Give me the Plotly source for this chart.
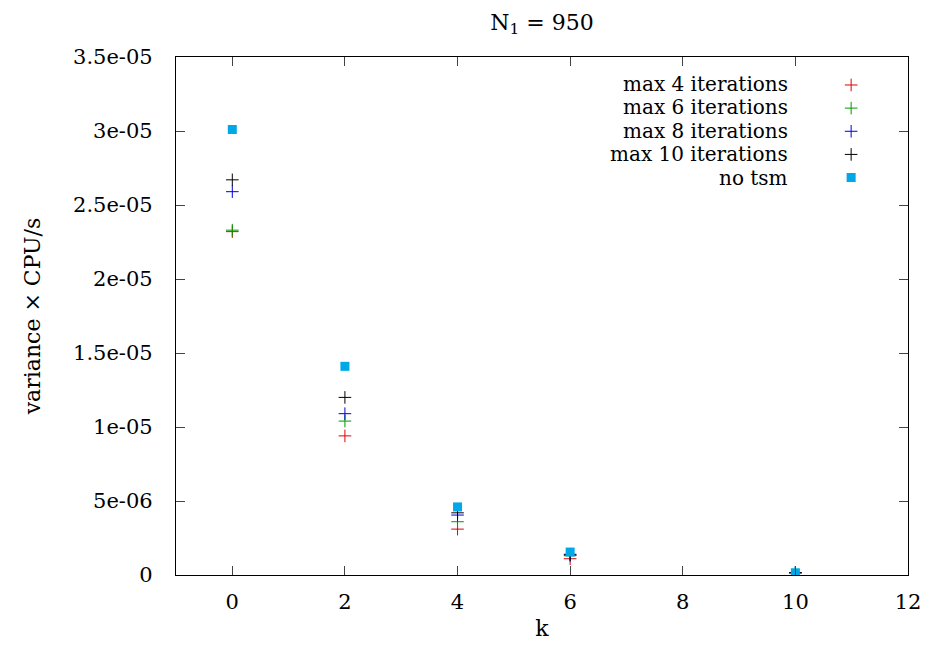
import plotly.graph_objects as go

k = [0, 2, 4, 6, 10]
max4 = [2.32e-5, 9.4e-6, 3.1e-6, 1.1e-6, 1.5e-7]
max6 = [2.33e-5, 1.04e-5, 3.6e-6, 1.3e-6, 1.5e-7]
max8 = [2.59e-5, 1.09e-5, 4.05e-6, 1.35e-6, 1.5e-7]
max10 = [2.67e-5, 1.20e-5, 4.2e-6, 1.4e-6, 1.5e-7]
no_tsm = [3.01e-5, 1.41e-5, 4.6e-6, 1.55e-6, 1.5e-7]

series_names = ["max 4 iterations", "max 6 iterations", "max 8 iterations", "max 10 iterations", "no tsm"]
series_colors = ["#e00000", "#009900", "#0000e0", "#000000", "#00a8e8"]

y_tickvals = [0, 5e-6, 1e-5, 1.5e-5, 2e-5, 2.5e-5, 3e-5, 3.5e-5]
y_ticktext = ["0", "5e-06", "1e-05", "1.5e-05", "2e-05", "2.5e-05", "3e-05", "3.5e-05"]
x_tickvals = [0, 2, 4, 6, 8, 10, 12]

FONT = "DejaVu Serif"

fig = go.Figure()
for vals, name, col in zip([max4, max6, max8, max10], series_names[:4], series_colors[:4]):
    fig.add_trace(go.Scatter(
        x=k, y=vals, mode="markers", name="\u00a0",
        marker=dict(symbol="cross-thin", size=9, line=dict(color=col, width=1), color=col),
        hovertext=name,
    ))
fig.add_trace(go.Scatter(
    x=k, y=no_tsm, mode="markers", name="\u00a0",
    marker=dict(symbol="square", size=9, color=series_colors[4], line=dict(width=0)),
    hovertext=series_names[4],
))

# legend labels (right-aligned text left of the legend symbols)
for i, name in enumerate(series_names):
    fig.add_annotation(
        xref="paper", yref="paper", x=0.838, y=0.948 - i * 0.0452,
        text=name, showarrow=False, xanchor="right", yanchor="middle",
        font=dict(family=FONT, size=20, color="black"), borderpad=0,
    )

fig.update_layout(
    width=928, height=646,
    margin=dict(l=176, r=20, t=57, b=71),
    paper_bgcolor="white", plot_bgcolor="white",
    font=dict(family=FONT, size=21, color="black"),
    title=dict(text="N<sub>1</sub> = 950", xref="paper", x=0.5, xanchor="center", y=0.966, yanchor="middle",
               font=dict(family=FONT, size=22)),
    legend=dict(x=0.895, y=0.978, xanchor="left", yanchor="top", bgcolor="rgba(0,0,0,0)",
                font=dict(family=FONT, size=15.5), tracegroupgap=0, itemwidth=30),
    showlegend=True,
)
fig.update_xaxes(
    range=[-1, 12], tickvals=x_tickvals, ticks="inside", ticklen=9, tickcolor="#444",
    showline=True, linecolor="black", linewidth=1.2, mirror="ticks", showgrid=False, zeroline=False,
    title=dict(text="k", font=dict(family=FONT, size=22), standoff=7),
    tickfont=dict(family=FONT, size=21), ticklabelstandoff=8, automargin=False,
)
fig.update_yaxes(
    range=[0, 3.5e-5], tickvals=y_tickvals, ticktext=y_ticktext, ticks="inside", ticklen=9, tickcolor="#444",
    showline=True, linecolor="black", linewidth=1.2, mirror="ticks", showgrid=False, zeroline=False,
    title=dict(text="variance × CPU/s", font=dict(family=FONT, size=22), standoff=26),
    tickfont=dict(family=FONT, size=21), ticklabelstandoff=18, automargin=False,
)

fig.write_html("out.html")
